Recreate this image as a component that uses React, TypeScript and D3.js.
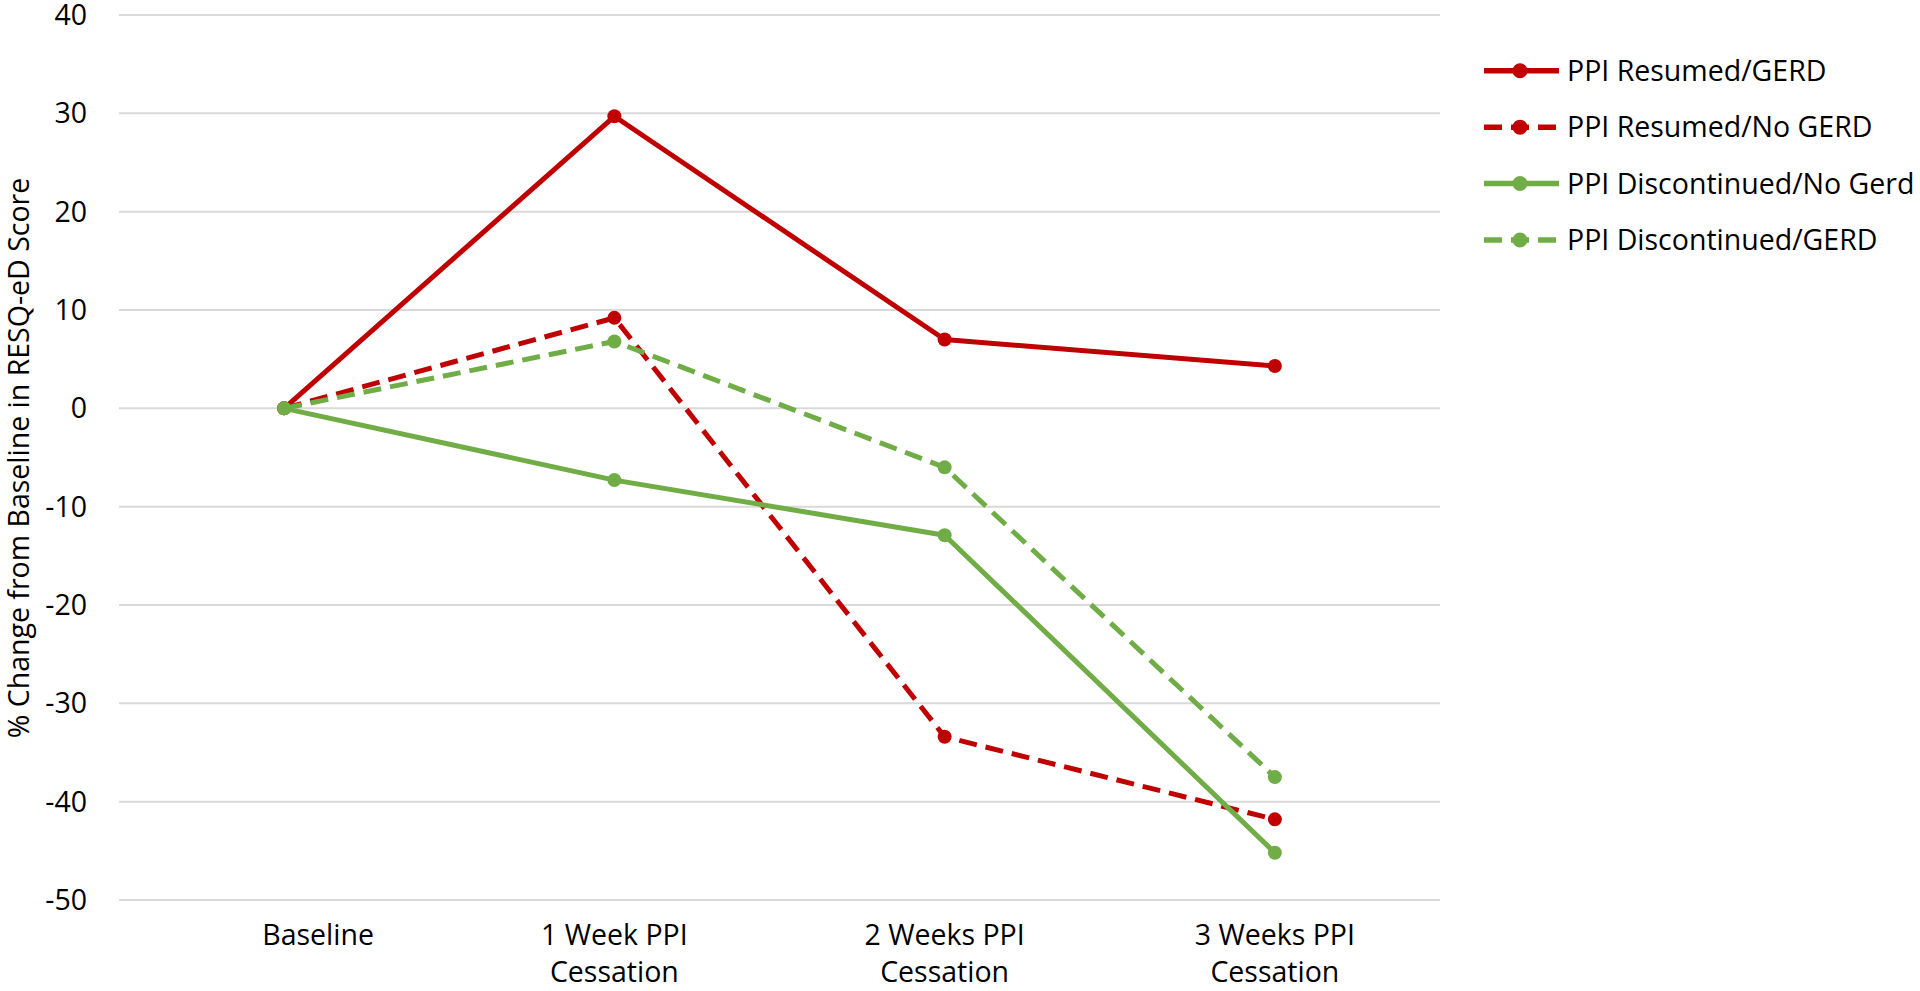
import React from "react";
import * as d3 from "d3";

const categories = ["Baseline", "1 Week PPI|Cessation", "2 Weeks PPI|Cessation", "3 Weeks PPI|Cessation"];
const seriesNames = ["PPI Resumed/GERD", "PPI Resumed/No GERD", "PPI Discontinued/No Gerd", "PPI Discontinued/GERD"];
const resumedGerd = [0, 29.7, 7.0, 4.3];
const resumedNoGerd = [0, 9.2, -33.4, -41.8];
const discontinuedNoGerd = [0, -7.3, -12.9, -45.2];
const discontinuedGerd = [0, 6.8, -6.0, -37.5];
const yTicks = [40, 30, 20, 10, 0, -10, -20, -30, -40, -50];
const yTitle = "% Change from Baseline in RESQ-eD Score";

const RED = "#C00000";
const GREEN = "#70AD47";
const FONT = "'Open Sans', sans-serif";
const FS = 28.5;

const series = [
  { name: seriesNames[0], values: resumedGerd, color: RED, dashed: false },
  { name: seriesNames[1], values: resumedNoGerd, color: RED, dashed: true },
  { name: seriesNames[2], values: discontinuedNoGerd, color: GREEN, dashed: false },
  { name: seriesNames[3], values: discontinuedGerd, color: GREEN, dashed: true },
];

export default function App() {
  const W = 1920, H = 991;
  const x = d3.scaleBand<string>().domain(categories).range([119, 1440]).padding(0);
  const y = d3.scaleLinear().domain([-50, 40]).range([900, 15]);
  const cx = (c: string) => (x(c) as number) + x.bandwidth() / 2;
  const line = d3
    .line<number>()
    .x((_, i) => cx(categories[i]))
    .y((v) => y(v));
  const dash = "18 9";
  const legendY = d3.scaleLinear().domain([0, 3]).range([70.7, 240]);

  return (
    <svg width={W} height={H} style={{ position: "absolute", left: 0, top: 0, background: "#fff" }}>
      <rect width={W} height={H} fill="#fff" />
      {yTicks.map((t) => (
        <g key={t}>
          <line x1={119} x2={1440} y1={y(t)} y2={y(t)} stroke="#d9d9d9" strokeWidth={2} />
          <text x={87} y={y(t) + 10} textAnchor="end" fontFamily={FONT} fontSize={FS} fill="#000">
            {t}
          </text>
        </g>
      ))}
      <text
        transform={`translate(${29},${458}) rotate(-90)`}
        textAnchor="middle"
        fontFamily={FONT}
        fontSize={FS}
        fill="#000"
      >
        {yTitle}
      </text>
      {categories.map((c, i) => {
        const lines = c.split("|");
        const dx = i === 0 ? 34 : 0;
        return (
          <text key={c} textAnchor="middle" fontFamily={FONT} fontSize={FS} fill="#000">
            {lines.map((l, j) => (
              <tspan key={j} x={cx(c) + dx} y={945 + j * 37}>
                {l}
              </tspan>
            ))}
          </text>
        );
      })}
      {series.map((s) => (
        <g key={s.name}>
          <path
            d={line(s.values) || ""}
            fill="none"
            stroke={s.color}
            strokeWidth={5}
            strokeDasharray={s.dashed ? dash : undefined}
            strokeLinejoin="round"
          />
          {s.values.map((v, i) => (
            <circle key={i} cx={cx(categories[i])} cy={y(v)} r={7} fill={s.color} />
          ))}
        </g>
      ))}
      {series.map((s, i) => (
        <g key={"lg" + s.name}>
          <line
            x1={1484}
            x2={s.dashed ? 1556 : 1559}
            y1={legendY(i)}
            y2={legendY(i)}
            stroke={s.color}
            strokeWidth={5.5}
            strokeDasharray={s.dashed ? dash : undefined}
          />
          <circle cx={1520} cy={legendY(i)} r={7.5} fill={s.color} />
          <text x={1567} y={legendY(i) + 10} fontFamily={FONT} fontSize={28.5} fill="#000">
            {s.name}
          </text>
        </g>
      ))}
    </svg>
  );
}
